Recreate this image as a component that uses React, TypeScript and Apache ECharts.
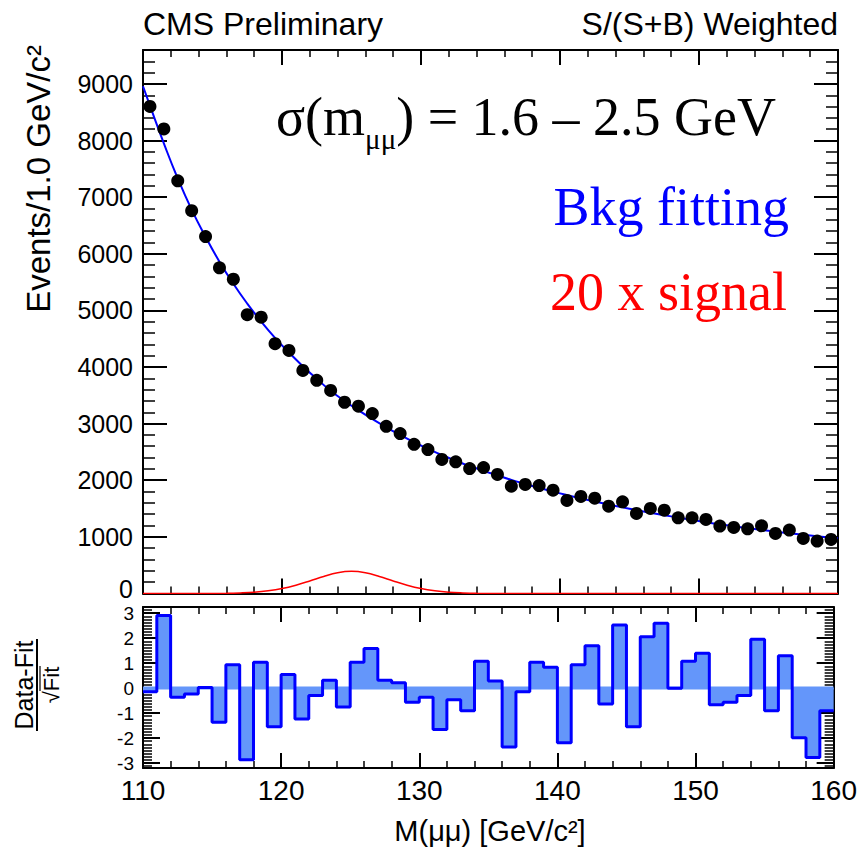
import React, { useEffect, useRef } from "react";
import * as echarts from "echarts";

// ---------------- data ----------------
const MASS_MIN = 110;
const MASS_MAX = 160;
const BIN_WIDTH = 1;

// weighted events per 1 GeV bin (110-111 ... 159-160)
const eventsPerBin = [
  8603, 8205, 7289, 6761, 6303, 5751, 5550, 4923, 4880, 4412,
  4293, 3939, 3765, 3586, 3377, 3307, 3178, 2952, 2823, 2634,
  2542, 2366, 2325, 2206, 2224, 2101, 1894, 1924, 1906, 1824,
  1642, 1713, 1683, 1541, 1618, 1412, 1501, 1471, 1335, 1335,
  1306, 1189, 1165, 1141, 1194, 1060, 1118, 972, 924, 954,
];

// background fit curve: value at 110, at every bin centre, and at 160
const fitValues = [
  8960,
  8617, 7950, 7330, 6780, 6300, 5860, 5470, 5120, 4805, 4515,
  4255, 4015, 3790, 3580, 3400, 3235, 3080, 2935, 2800, 2670,
  2555, 2445, 2345, 2250, 2165, 2085, 2005, 1933, 1864, 1798,
  1736, 1677, 1622, 1570, 1520, 1472, 1426, 1382, 1340, 1300,
  1257, 1220, 1185, 1152, 1121, 1092, 1064, 1037, 1011, 986,
  974,
];

// 20 x signal curve
const signalMass = [110, 114, 116, 117, 118, 119, 120, 121, 122, 123, 124, 125, 126, 127, 128, 129, 130, 131, 132, 133, 134, 136, 160];
const signalValues = [0, 0, 2, 8, 20, 45, 85, 145, 220, 300, 365, 390, 365, 300, 220, 145, 85, 45, 20, 8, 2, 0, 0];

// (Data - Fit) / sqrt(Fit) per bin
const residuals = [
  -0.15, 2.91, -0.37, -0.24, 0.03, -1.37, 0.94, -2.87, 1.04, -1.55,
  0.55, -1.24, -0.3, 0.32, -0.76, 1.04, 1.59, 0.32, 0.22, -0.57,
  -0.37, -1.66, -0.47, -0.91, 1.08, 0.29, -2.36, -0.15, 1.04, 0.84,
  -2.19, 0.94, 1.7, -0.64, 2.53, -1.55, 2.06, 2.6, -0.01, 1.08,
  1.4, -0.67, -0.57, -0.3, 1.96, -0.91, 1.3, -1.99, -2.78, -0.91,
];

const Y_TOP_MAX = 9600;
const Y_RES_MIN = -3.2;
const Y_RES_MAX = 3.25;

// ---------------- helpers ----------------
const SANS = '"Liberation Sans", Arial, Helvetica, sans-serif';
const SERIF = '"Liberation Serif", "Times New Roman", serif';

const binCenters = eventsPerBin.map((_, i) => MASS_MIN + (i + 0.5) * BIN_WIDTH);
const fitMass = [MASS_MIN, ...binCenters, MASS_MAX];

const frameLine = { show: true, onZero: false, lineStyle: { color: "#000", width: 2 } };

function xAxisDef(gridIndex: number, position: string, labels: boolean) {
  return {
    type: "value",
    gridIndex,
    position,
    min: MASS_MIN,
    max: MASS_MAX,
    interval: 10,
    axisLine: frameLine,
    axisTick: { show: true, inside: true, length: 15, lineStyle: { color: "#000", width: 2 } },
    minorTick: { show: true, splitNumber: 5, length: 7, lineStyle: { color: "#000", width: 1.5 } },
    splitLine: { show: false },
    minorSplitLine: { show: false },
    axisLabel: labels
      ? { show: true, color: "#000", fontSize: 28, fontFamily: SANS, margin: 8 }
      : { show: false },
  };
}

function yMajor(gridIndex: number, position: string, min: number, max: number, step: number,
  tickLen: number, labels: boolean, fontSize: number, margin: number, lineHeight: number, liftZero: boolean) {
  return {
    type: "value",
    gridIndex,
    position,
    min,
    max,
    minInterval: step,
    maxInterval: step,
    axisLine: frameLine,
    axisTick: { show: true, inside: true, length: tickLen, lineStyle: { color: "#000", width: 2 } },
    splitLine: { show: false },
    axisLabel: labels
      ? {
          show: true,
          color: "#000",
          fontSize,
          lineHeight,
          fontFamily: SANS,
          margin,
          showMinLabel: min % step === 0,
          showMaxLabel: max % step === 0,
          formatter: (v: number) => (liftZero && v === 0 ? "{lift|0}" : String(Math.round(v))),
          rich: {
            lift: { fontSize, fontFamily: SANS, color: "#000", lineHeight, padding: [0, 0, 8, 0] },
          },
        }
      : { show: false },
  };
}

function yMinor(gridIndex: number, position: string, min: number, max: number, step: number, tickLen: number) {
  return {
    type: "value",
    gridIndex,
    position,
    min,
    max,
    minInterval: step,
    maxInterval: step,
    axisLine: { show: false },
    axisTick: { show: true, inside: true, length: tickLen, lineStyle: { color: "#000", width: 1.5 } },
    splitLine: { show: false },
    axisLabel: { show: false },
  };
}

export default function App() {
  const ref = useRef<HTMLDivElement>(null);

  useEffect(() => {
    if (!ref.current) return;
    const chart = echarts.init(ref.current, undefined, { renderer: "svg" });

    const histData = residuals.map((r, i) => [MASS_MIN + i * BIN_WIDTH, r]);
    histData.push([MASS_MAX, residuals[residuals.length - 1]]);

    const option: any = {
      animation: false,
      backgroundColor: "#fff",
      grid: [
        { left: 143, right: 22, top: 50, bottom: 847 - 593.4 },
        { left: 143, right: 22, top: 607, bottom: 847 - 768 },
      ],
      xAxis: [
        xAxisDef(0, "bottom", false),
        xAxisDef(0, "top", false),
        xAxisDef(1, "bottom", true),
        xAxisDef(1, "top", false),
      ],
      yAxis: [
        yMajor(0, "left", 0, Y_TOP_MAX, 1000, 24, true, 25, 10, 17, true),
        yMinor(0, "left", 0, Y_TOP_MAX, 200, 12),
        yMajor(0, "right", 0, Y_TOP_MAX, 1000, 24, false, 25, 10, 17, false),
        yMinor(0, "right", 0, Y_TOP_MAX, 200, 12),
        yMajor(1, "left", Y_RES_MIN, Y_RES_MAX, 1, 17, true, 19, 9, 13, false),
        yMinor(1, "left", Y_RES_MIN, Y_RES_MAX, 0.125, 9),
        yMajor(1, "right", Y_RES_MIN, Y_RES_MAX, 1, 17, false, 19, 9, 13, false),
        yMinor(1, "right", Y_RES_MIN, Y_RES_MAX, 0.125, 9),
      ],
      series: [
        {
          name: "Bkg fitting",
          type: "line",
          xAxisIndex: 0,
          yAxisIndex: 0,
          data: fitMass.map((m, i) => [m, fitValues[i]]),
          smooth: true,
          showSymbol: false,
          symbol: "none",
          lineStyle: { color: "#0000ff", width: 2 },
          z: 3,
        },
        {
          name: "20 x signal",
          type: "line",
          xAxisIndex: 0,
          yAxisIndex: 0,
          data: signalMass.map((m, i) => [m, signalValues[i]]),
          smooth: 0.4,
          showSymbol: false,
          symbol: "none",
          lineStyle: { color: "#ff0000", width: 1.5 },
          z: 4,
        },
        {
          name: "Data",
          type: "scatter",
          xAxisIndex: 0,
          yAxisIndex: 0,
          data: binCenters.map((m, i) => [m, eventsPerBin[i]]),
          symbol: "circle",
          symbolSize: 13,
          itemStyle: { color: "#000", opacity: 1 },
          z: 5,
        },
        {
          name: "zero",
          type: "line",
          xAxisIndex: 2,
          yAxisIndex: 4,
          data: [[MASS_MIN, 0], [MASS_MAX, 0]],
          showSymbol: false,
          symbol: "none",
          lineStyle: { color: "#6496fa", width: 3 },
          z: 2,
        },
        {
          name: "Residual",
          type: "line",
          xAxisIndex: 2,
          yAxisIndex: 4,
          data: histData,
          step: "end",
          showSymbol: false,
          symbol: "none",
          lineStyle: { color: "#0000ff", width: 3 },
          areaStyle: { color: "#6496fa", opacity: 1, origin: 0 },
          z: 3,
        },
      ],
      graphic: [
        {
          type: "text",
          x: 143,
          y: 24,
          style: { text: "CMS Preliminary", font: `32px ${SANS}`, fill: "#000", textAlign: "left", textVerticalAlign: "middle" },
        },
        {
          type: "text",
          x: 838,
          y: 24,
          style: { text: "S/(S+B) Weighted", font: `32px ${SANS}`, fill: "#000", textAlign: "right", textVerticalAlign: "middle" },
        },
        {
          type: "text",
          x: 38,
          y: 45,
          rotation: Math.PI / 2,
          style: { text: "Events/1.0 GeV/c²", font: `33px ${SANS}`, fill: "#000", textAlign: "right", textVerticalAlign: "middle" },
        },
        {
          type: "text",
          x: 490,
          y: 831,
          style: { text: "M(μμ) [GeV/c²]", font: `29px ${SANS}`, fill: "#000", textAlign: "center", textVerticalAlign: "middle" },
        },
        {
          type: "text",
          x: 276,
          y: 117,
          style: {
            text: "σ(m{sub|μμ}) = 1.6 – 2.5 GeV",
            font: `54px ${SERIF}`,
            fill: "#000",
            textAlign: "left",
            textVerticalAlign: "middle",
            lineHeight: 58,
            rich: {
              sub: { fontSize: 29, fontFamily: SERIF, fill: "#000", lineHeight: 29, padding: [44, 0, 0, 0] },
            },
          },
        },
        {
          type: "text",
          x: 789,
          y: 207,
          style: { text: "Bkg fitting", font: `54px ${SERIF}`, fill: "#0000ff", textAlign: "right", textVerticalAlign: "middle" },
        },
        {
          type: "text",
          x: 787,
          y: 292,
          style: { text: "20 x signal", font: `54px ${SERIF}`, fill: "#ff0000", textAlign: "right", textVerticalAlign: "middle" },
        },
        {
          type: "group",
          x: 37,
          y: 685,
          rotation: Math.PI / 2,
          children: [
            {
              type: "text",
              x: 0,
              y: -13,
              style: { text: "Data-Fit", font: `25px ${SANS}`, fill: "#000", textAlign: "center", textVerticalAlign: "middle" },
            },
            {
              type: "line",
              shape: { x1: -46, y1: 0, x2: 46, y2: 0 },
              style: { stroke: "#000", lineWidth: 2 },
            },
            {
              type: "text",
              x: 0,
              y: 14,
              style: { text: "√Fit", font: `22px ${SANS}`, fill: "#000", textAlign: "center", textVerticalAlign: "middle" },
            },
            {
              type: "line",
              shape: { x1: -6, y1: 3, x2: 19, y2: 3 },
              style: { stroke: "#000", lineWidth: 1.2 },
            },
          ],
        },
      ],
    };

    chart.setOption(option);
    return () => {
      chart.dispose();
    };
  }, []);

  return (
    <div
      ref={ref}
      style={{ position: "fixed", left: 0, top: 0, width: 860, height: 847, background: "#fff" }}
    />
  );
}
